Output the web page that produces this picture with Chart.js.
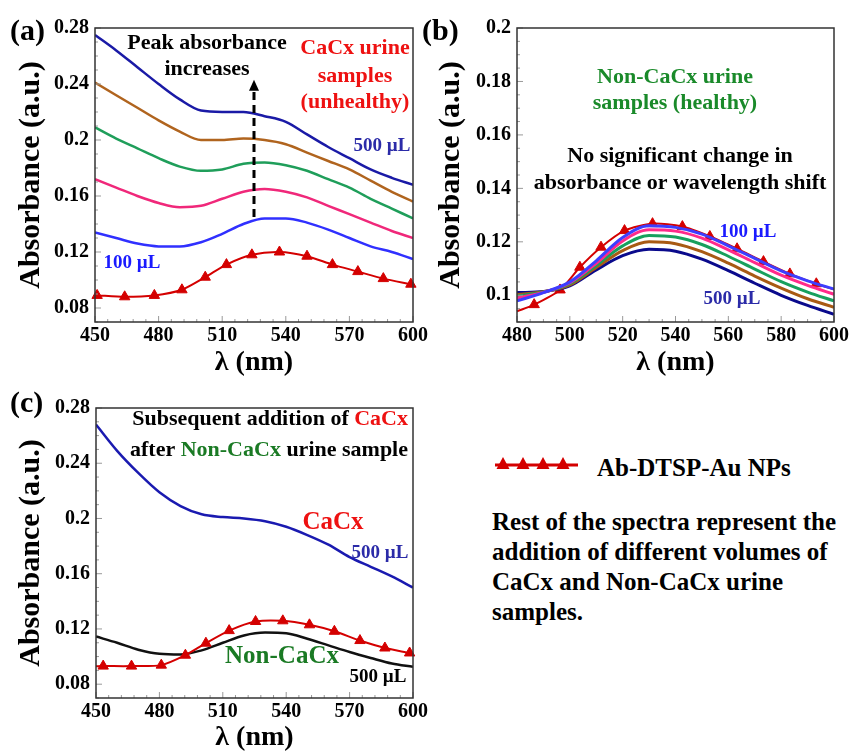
<!DOCTYPE html>
<html>
<head>
<meta charset="utf-8">
<script src="https://cdn.jsdelivr.net/npm/chart.js@4.4.0/dist/chart.umd.min.js"></script>
<style>
  body { margin: 0; background: #fff; width: 851px; height: 752px; position: relative; overflow: hidden;
         font-family: 'Liberation Serif', 'Times New Roman', serif; }
  canvas { position: absolute; }
  .txt { position: absolute; font-weight: bold; color: #000; font-size: 25px; line-height: 30px; white-space: nowrap; }
</style>
</head>
<body>
<canvas id="chartA" width="430" height="380" style="left:0;top:0"></canvas>
<canvas id="chartB" width="431" height="380" style="left:420px;top:0"></canvas>
<canvas id="chartC" width="430" height="362" style="left:0;top:390px"></canvas>

<svg style="position:absolute;left:493px;top:452px" width="90" height="22">
  <line x1="2" y1="13" x2="85" y2="13" stroke="#d40000" stroke-width="3"/>
  <polygon points="10,5 16.5,17 3.5,17" fill="#d40000"/>
  <polygon points="30,5 36.5,17 23.5,17" fill="#d40000"/>
  <polygon points="50,5 56.5,17 43.5,17" fill="#d40000"/>
  <polygon points="70,5 76.5,17 63.5,17" fill="#d40000"/>
</svg>
<div class="txt" style="left:597px;top:453px">Ab-DTSP-Au NPs</div>
<div class="txt" style="left:492px;top:507px">Rest of the spectra represent the<br>addition of different volumes of<br>CaCx and Non-CaCx urine<br>samples.</div>

<script>
const FONT = "'Liberation Serif', 'Times New Roman', serif"
const RED = '#d40000'

// (a) CaCx urine samples, 100 - 500 uL
const waveA = [450, 460, 470, 480, 490, 500, 510, 520, 530, 540, 550, 560, 570, 580, 590, 600]
const absA100 = [0.134, 0.130, 0.126, 0.124, 0.124, 0.127, 0.133, 0.140, 0.144, 0.144, 0.141, 0.136, 0.130, 0.124, 0.120, 0.115]
const absA200 = [0.172, 0.166, 0.160, 0.155, 0.152, 0.153, 0.158, 0.163, 0.165, 0.163, 0.159, 0.153, 0.147, 0.141, 0.135, 0.130]
const absA300 = [0.209, 0.201, 0.194, 0.187, 0.181, 0.178, 0.179, 0.183, 0.184, 0.182, 0.178, 0.172, 0.166, 0.158, 0.151, 0.144]
const absA400 = [0.241, 0.232, 0.223, 0.214, 0.206, 0.200, 0.200, 0.201, 0.200, 0.197, 0.191, 0.185, 0.179, 0.171, 0.163, 0.156]
const absA500 = [0.275, 0.264, 0.252, 0.240, 0.229, 0.221, 0.220, 0.220, 0.217, 0.213, 0.204, 0.195, 0.187, 0.179, 0.173, 0.168]
const npWaveA = [451, 464, 478, 491, 502, 512, 524, 537, 550, 562, 574, 586, 599]
const npAbsA = [0.089, 0.088, 0.089, 0.093, 0.102, 0.111, 0.118, 0.120, 0.117, 0.111, 0.106, 0.101, 0.097]
const ticksAX = [450, 480, 510, 540, 570, 600]
const ticksAY = [0.08, 0.12, 0.16, 0.2, 0.24, 0.28]

// (b) Non-CaCx urine samples
const waveB = [480, 490, 500, 510, 520, 530, 540, 550, 560, 570, 580, 590, 600]
const absB100 = [0.0979, 0.1010, 0.1050, 0.1129, 0.1216, 0.1260, 0.1254, 0.1229, 0.1185, 0.1138, 0.1091, 0.1054, 0.1023]
const absB200 = [0.0990, 0.1011, 0.1047, 0.1120, 0.1203, 0.1245, 0.1240, 0.1214, 0.1170, 0.1122, 0.1075, 0.1037, 0.1004]
const absB300 = [0.0997, 0.1012, 0.1043, 0.1112, 0.1185, 0.1224, 0.1218, 0.1190, 0.1146, 0.1098, 0.1051, 0.1012, 0.0979]
const absB400 = [0.1003, 0.1013, 0.1039, 0.1104, 0.1167, 0.1200, 0.1193, 0.1163, 0.1120, 0.1072, 0.1027, 0.0987, 0.0955]
const absB500 = [0.1010, 0.1014, 0.1035, 0.1095, 0.1148, 0.1172, 0.1165, 0.1135, 0.1092, 0.1045, 0.1000, 0.0962, 0.0929]
const npWaveB = [480, 486.5, 496.3, 503.8, 511.8, 520.7, 531.3, 542.6, 553.0, 563.3, 573.3, 583.3, 593.3, 600]
const npAbsB = [0.094, 0.0965, 0.1020, 0.1105, 0.1180, 0.1242, 0.1268, 0.1257, 0.1220, 0.1174, 0.1126, 0.1080, 0.1043, 0.1022]
const ticksBX = [480, 500, 520, 540, 560, 580, 600]
const ticksBY = [0.1, 0.12, 0.14, 0.16, 0.18, 0.2]

// (c) CaCx added after Non-CaCx
const waveC = [450, 460, 470, 480, 490, 500, 510, 520, 530, 540, 550, 560, 570, 580, 590, 600]
const absCaCx500 = [0.268, 0.249, 0.233, 0.219, 0.209, 0.203, 0.201, 0.200, 0.198, 0.194, 0.188, 0.181, 0.172, 0.165, 0.158, 0.150]
const absNonCaCx500 = [0.1145, 0.110, 0.105, 0.102, 0.1015, 0.1045, 0.110, 0.1153, 0.1174, 0.1169, 0.1129, 0.1081, 0.1033, 0.099, 0.095, 0.0926]
const npWaveC = [450, 453.4, 466.8, 480.9, 492.3, 502.0, 513.0, 525.5, 538.4, 551.0, 562.8, 574.9, 586.7, 598.4, 600]
const npAbsC = [0.093, 0.0931, 0.0931, 0.0938, 0.1010, 0.1097, 0.1188, 0.1254, 0.1259, 0.1230, 0.1183, 0.1116, 0.1062, 0.1026, 0.102]
const ticksCX = [450, 480, 510, 540, 570, 600]
const ticksCY = [0.08, 0.12, 0.16, 0.2, 0.24, 0.28]

function pts(xs, ys) {
    return xs.map((x, i) => ({ x: x, y: ys[i] }))
}

function curve(xs, ys, color, width) {
    return {
        data: pts(xs, ys), borderColor: color, borderWidth: width,
        pointRadius: 0, cubicInterpolationMode: 'monotone', fill: false
    }
}

// nanoparticle spectrum: red line with triangles, no marker on the given indexes
function npCurve(xs, ys, noMark) {
    return {
        data: pts(xs, ys), borderColor: RED, backgroundColor: RED, borderWidth: 2,
        pointStyle: 'triangle', pointBorderWidth: 1,
        pointRadius: xs.map((x, i) => noMark.includes(i) ? 0 : 6),
        tension: 0.25, fill: false, clip: 10
    }
}

function note(text, color, x, y, size, align) {
    return { parts: [[text, color]], x: x, y: y, size: size || 22, align: align || 'center' }
}

function tickMarks(ctx, scale, majors, sub, a) {
    var step = (majors[1] - majors[0]) / sub
    var v = majors[0]
    while (v - step >= scale.min - 1e-9) v -= step
    for (; v <= scale.max + 1e-9; v += step) {
        var major = majors.some(m => Math.abs(m - v) < step / 10)
        var len = major ? 6 : 3
        var p = scale.getPixelForValue(v)
        ctx.beginPath()
        if (scale.isHorizontal()) {
            ctx.moveTo(p, a.bottom); ctx.lineTo(p, a.bottom - len)
        } else {
            ctx.moveTo(a.left, p); ctx.lineTo(a.left + len, p)
        }
        ctx.stroke()
    }
}

const decor = {
    id: 'decor',
    afterDraw(chart, args, opts) {
        var ctx = chart.ctx, a = chart.chartArea
        var sx = chart.scales.x, sy = chart.scales.y
        ctx.save()
        ctx.strokeStyle = '#999'; ctx.lineWidth = 1
        tickMarks(ctx, sx, opts.xTicks, opts.xSub, a)
        tickMarks(ctx, sy, opts.yTicks, opts.ySub, a)
        ctx.strokeStyle = '#333'; ctx.lineWidth = 1.5
        ctx.strokeRect(a.left, a.top, a.right - a.left, a.bottom - a.top)

        if (opts.arrow) {
            var ar = opts.arrow
            var x = sx.getPixelForValue(ar.x)
            var y0 = sy.getPixelForValue(ar.from), y1 = sy.getPixelForValue(ar.to)
            ctx.strokeStyle = '#000'; ctx.lineWidth = 3; ctx.setLineDash([8, 5])
            ctx.beginPath(); ctx.moveTo(x, y0); ctx.lineTo(x, y1 + 9); ctx.stroke()
            ctx.setLineDash([])
            ctx.fillStyle = '#000'
            ctx.beginPath(); ctx.moveTo(x, y1); ctx.lineTo(x - 5, y1 + 11); ctx.lineTo(x + 5, y1 + 11)
            ctx.closePath(); ctx.fill()
        }

        ctx.textBaseline = 'middle'; ctx.textAlign = 'left'
        opts.notes.forEach(n => {
            ctx.font = 'bold ' + n.size + 'px ' + FONT
            var total = 0
            n.parts.forEach(p => { total += ctx.measureText(p[0]).width })
            var tx = n.align == 'left' ? n.x : (n.align == 'right' ? n.x - total : n.x - total / 2)
            n.parts.forEach(p => {
                ctx.fillStyle = p[1]
                ctx.fillText(p[0], tx, n.y)
                tx += ctx.measureText(p[0]).width
            })
        })
        ctx.restore()
    }
}

function axes(o) {
    return {
        x: {
            type: 'linear', min: o.xMin, max: o.xMax,
            afterBuildTicks: s => { s.ticks = o.xTicks.map(v => ({ value: v })) },
            afterFit: s => { s.height = o.xHeight },
            grid: { display: false, drawTicks: false }, border: { display: false },
            ticks: { color: '#000', padding: 2, maxRotation: 0, autoSkip: false,
                     font: { family: FONT, size: 20, weight: 'bold' }, callback: v => String(v) },
            title: { display: true, text: 'λ (nm)', color: '#000',
                     font: { family: FONT, size: 28, weight: 'bold', lineHeight: 1 },
                     padding: { top: 0, bottom: o.xTitlePad } }
        },
        y: {
            type: 'linear', min: o.yMin, max: o.yMax,
            afterBuildTicks: s => { s.ticks = o.yTicks.map(v => ({ value: v })) },
            afterFit: s => { s.width = o.yWidth },
            grid: { display: false, drawTicks: false }, border: { display: false },
            ticks: { color: '#000', padding: 6, autoSkip: false,
                     font: { family: FONT, size: 20, weight: 'bold' }, callback: v => String(v) },
            title: { display: true, text: 'Absorbance (a.u.)', color: '#000',
                     font: { family: FONT, size: 30, weight: 'bold', lineHeight: 1 },
                     padding: { top: 16, bottom: 0 } }
        }
    }
}

function makeChart(id, datasets, scaleOpts, padding, decorOpts) {
    return new Chart(document.getElementById(id), {
        type: 'scatter',
        data: { datasets: datasets },
        options: {
            responsive: false, animation: false, devicePixelRatio: 1,
            showLine: true,
            layout: { padding: padding },
            scales: axes(scaleOpts),
            plugins: { legend: { display: false }, tooltip: { enabled: false }, decor: decorOpts }
        },
        plugins: [decor]
    })
}

var chartA = makeChart('chartA', [
        npCurve(npWaveA, npAbsA, []),
        curve(waveA, absA100, '#3030ff', 2.5),
        curve(waveA, absA200, '#f0287a', 2.5),
        curve(waveA, absA300, '#1f9e5a', 2.5),
        curve(waveA, absA400, '#b0641e', 2.5),
        curve(waveA, absA500, '#1a1aa6', 2.5)
    ],
    { xMin: 450, xMax: 600, yMin: 0.07, yMax: 0.28, xTicks: ticksAX, yTicks: ticksAY,
      xHeight: 58, yWidth: 95, xTitlePad: 3 },
    { left: 0, top: 28, right: 15, bottom: 0 },
    { xTicks: ticksAX, xSub: 5, yTicks: ticksAY, ySub: 4,
      arrow: { x: 525, from: 0.145, to: 0.243 },
      notes: [
          note('(a)', '#000', 10, 32, 30, 'left'),
          note('Peak absorbance', '#000', 207, 43),
          note('increases', '#000', 207, 69),
          note('CaCx urine', '#ee1111', 355, 48),
          note('samples', '#ee1111', 355, 76),
          note('(unhealthy)', '#ee1111', 355, 102),
          note('500 µL', '#2b2ba8', 382, 146, 19),
          note('100 µL', '#1a1aff', 132, 263, 19)
      ] }
)

var chartB = makeChart('chartB', [
        curve(waveB, absB100, '#3d3dff', 3),
        curve(waveB, absB200, '#ff2a8a', 3),
        curve(waveB, absB300, '#17a05d', 3),
        curve(waveB, absB400, '#a85a14', 3),
        curve(waveB, absB500, '#0a0a8c', 3),
        npCurve(npWaveB, npAbsB, [0, 13])
    ],
    { xMin: 480, xMax: 600, yMin: 0.09, yMax: 0.2, xTicks: ticksBX, yTicks: ticksBY,
      xHeight: 58, yWidth: 97, xTitlePad: 3 },
    { left: 0, top: 28, right: 15, bottom: 0 },
    { xTicks: ticksBX, xSub: 4, yTicks: ticksBY, ySub: 4,
      notes: [
          note('(b)', '#000', 2, 32, 30, 'left'),
          note('Non-CaCx urine', '#1a8a2a', 255, 77),
          note('samples (healthy)', '#1a8a2a', 255, 103),
          note('No significant change in', '#000', 260, 156),
          note('absorbance or wavelength shift', '#000', 260, 183),
          note('100 µL', '#1a1aff', 328, 232, 19),
          note('500 µL', '#2b2ba8', 312, 299, 19)
      ] }
)

var chartC = makeChart('chartC', [
        npCurve(npWaveC, npAbsC, [0, 14]),
        curve(waveC, absNonCaCx500, '#111111', 2.5),
        curve(waveC, absCaCx500, '#1a1ab0', 2.5)
    ],
    { xMin: 450, xMax: 600, yMin: 0.07, yMax: 0.28, xTicks: ticksCX, yTicks: ticksCY,
      xHeight: 54, yWidth: 96, xTitlePad: 0 },
    { left: 0, top: 15, right: 15, bottom: 0 },
    { xTicks: ticksCX, xSub: 5, yTicks: ticksCY, ySub: 4,
      notes: [
          note('(c)', '#000', 10, 14, 30, 'left'),
          { parts: [['Subsequent addition of ', '#000'], ['CaCx', '#ee1111']], x: 408, y: 29, size: 22, align: 'right' },
          { parts: [['after ', '#000'], ['Non-CaCx', '#1a7a24'], [' urine sample', '#000']], x: 408, y: 60, size: 22, align: 'right' },
          note('CaCx', '#ee1111', 333, 133, 25),
          note('500 µL', '#2b2ba8', 380, 163, 19),
          note('Non-CaCx', '#1a7a24', 282, 267, 25),
          note('500 µL', '#000', 378, 287, 19)
      ] }
)
</script>
</body>
</html>
